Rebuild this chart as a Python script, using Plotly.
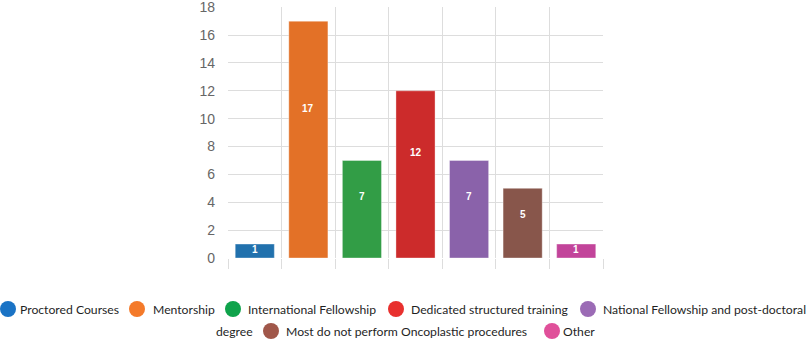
import plotly.graph_objects as go

# Training pathways reported by respondents
categories = [
    "Proctored Courses",
    "Mentorship",
    "International Fellowship",
    "Dedicated structured training",
    "National Fellowship and post-doctoral degree",
    "Most do not perform Oncoplastic procedures",
    "Other",
]
counts = [1, 17, 7, 12, 7, 5, 1]
bar_colors = ["#2171ad", "#e37127", "#329d46", "#cc2b2b", "#8a62aa", "#88564b", "#c2449a"]
legend_colors = ["#1a73c5", "#f47a2a", "#0fa34b", "#e8302e", "#9b6bb5", "#a0574a", "#e0509a"]
y_ticks = list(range(0, 19, 2))

W, H = 807, 340
L, R, T, B = 228, 204, 7, 82
plot_w = W - L - R
plot_h = H - T - B


def px_x(px):
    return (px - L) / plot_w


def px_y(py):
    return (H - B - py) / plot_h


fig = go.Figure()
fig.add_trace(go.Bar(
    x=categories,
    y=counts,
    marker=dict(color=bar_colors, line=dict(color="rgba(255,255,255,0.35)", width=1)),
    showlegend=False,
    hoverinfo="x+y",
))

annotations = []
# value labels inside the bars
for cat, v in zip(categories, counts):
    annotations.append(dict(
        x=cat, y=v * 0.63, xref="x", yref="y", text="<b>%d</b>" % v, showarrow=False,
        font=dict(family="Liberation Sans, Arial", size=10, color="white"),
        xanchor="center", yanchor="middle",
    ))

# legend laid out as wrapped inline rows
legend_rows = [
    # (circle left px, text left px, row centre px, label, colour index)
    (0, 18, 309, "Proctored Courses", 0),
    (129, 151, 309, "Mentorship", 1),
    (225, 246, 309, "International Fellowship", 2),
    (388, 409, 309, "Dedicated structured training", 3),
    (580, 601, 309, "National Fellowship and post-doctoral", 4),
    (None, 214, 331, "degree", None),
    (263, 284, 331, "Most do not perform Oncoplastic procedures", 5),
    (544, 561, 331, "Other", 6),
]
shapes = []
for cx, tx, cy, label, ci in legend_rows:
    annotations.append(dict(
        x=px_x(tx), y=px_y(cy), xref="paper", yref="paper", text=label,
        showarrow=False, xanchor="left", yanchor="middle",
        font=dict(family="Lato", size=12.2, color="#1f1f1f"),
    ))
    if ci is not None:
        shapes.append(dict(
            type="circle", xref="paper", yref="paper",
            xsizemode="pixel", ysizemode="pixel",
            xanchor=px_x(cx + 8), yanchor=px_y(cy),
            x0=-8, x1=8, y0=-8, y1=8,
            fillcolor=legend_colors[ci], line=dict(width=0),
        ))

fig.update_layout(
    width=W, height=H,
    margin=dict(l=L, r=R, t=T, b=B, autoexpand=False),
    plot_bgcolor="white", paper_bgcolor="white",
    bargap=0.27,
    annotations=annotations,
    shapes=shapes,
    xaxis=dict(
        type="category", tickson="boundaries", showticklabels=False,
        ticks="outside", ticklen=10, tickcolor="#dddddd",
        showgrid=True, gridcolor="#dddddd", gridwidth=1,
        showline=False, zeroline=False, automargin=False,
    ),
    yaxis=dict(
        range=[0, 18.02], tickvals=y_ticks, showgrid=True, gridcolor="#dddddd",
        zeroline=False, showline=False, ticks="", ticklabelstandoff=12,
        ticklabeloverflow="allow", automargin=False,
        tickfont=dict(family="Liberation Sans, Arial", size=14, color="#666666"),
    ),
)

fig.write_html("out.html")
